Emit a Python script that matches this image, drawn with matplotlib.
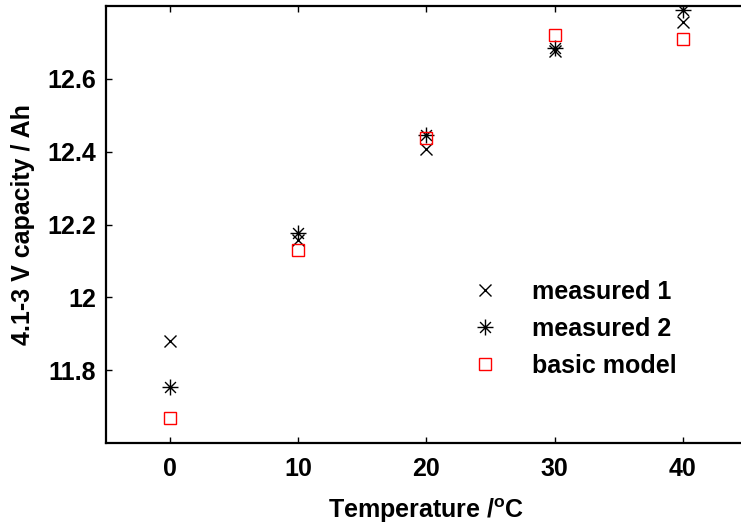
import matplotlib
matplotlib.use("Agg")
import matplotlib.pyplot as plt
from matplotlib.path import Path
import numpy as np

# ---- data ----
temperature = [0, 10, 20, 30, 40]
measured_1 = [11.88, 12.158, 12.407, 12.676, 12.757]
measured_2 = [11.755, 12.176, 12.447, 12.686, 12.789]
basic_model = [11.669, 12.130, 12.438, 12.720, 12.710]

x_ticks = [0, 10, 20, 30, 40]
y_ticks = [11.8, 12.0, 12.2, 12.4, 12.6]
y_tick_labels = ["11.8", "12", "12.2", "12.4", "12.6"]

plt.rcParams["font.family"] = ["Liberation Sans", "DejaVu Sans"]
plt.rcParams["font.weight"] = "bold"
plt.rcParams["mathtext.fontset"] = "custom"
plt.rcParams["mathtext.rm"] = "Liberation Sans:bold"
plt.rcParams["mathtext.bf"] = "Liberation Sans:bold"
plt.rcParams["mathtext.default"] = "rm"

# MATLAB-like asterisk marker: + with shorter x
d = 0.68
star_verts = [(0, -1), (0, 1), (-1, 0), (1, 0), (-d, -d), (d, d), (-d, d), (d, -d)]
star_codes = [Path.MOVETO, Path.LINETO] * 4
star_marker = Path(star_verts, star_codes)

fig = plt.figure(figsize=(7.41, 5.24), dpi=100)
ax = fig.add_axes([106 / 741, 1 - 443 / 524, 641 / 741, 437 / 524])

ax.plot(temperature, measured_1, linestyle="none", marker="x", color="black",
        markersize=8, markeredgewidth=1.0, label="measured 1")
ax.plot(temperature, measured_2, linestyle="none", marker=star_marker, color="black",
        markerfacecolor="none", markersize=11.5, markeredgewidth=1.0, label="measured 2")
ax.plot(temperature, basic_model, linestyle="none", marker="s", color="red",
        markerfacecolor="none", markersize=8.5, markeredgewidth=1.0, label="basic model")

ax.set_xlim(-5, 45)
ax.set_ylim(11.6, 12.8)
ax.set_xticks(x_ticks)
ax.set_yticks(y_ticks)
ax.set_yticklabels(y_tick_labels)

for s in ax.spines.values():
    s.set_linewidth(1.6)
ax.tick_params(direction="in", length=4, width=1.0, top=True, right=True,
               labelsize=18)
ax.tick_params(axis="x", pad=10)
ax.tick_params(axis="y", pad=7)
for lab in ax.get_xticklabels() + ax.get_yticklabels():
    lab.set_fontweight("bold")

ax.set_xlabel(r"Temperature /$^{\mathbf{o}}$C", fontsize=18, fontweight="bold", labelpad=11)
ax.set_ylabel("4.1-3 V capacity / Ah", fontsize=18, fontweight="bold", labelpad=9)

leg = ax.legend(loc="upper left", bbox_to_anchor=(465 / 741, 1 - 280 / 524),
                bbox_transform=fig.transFigure, frameon=False, fontsize=18,
                numpoints=1, handlelength=1.6, handletextpad=1.1, labelspacing=0.52,
                borderpad=0, borderaxespad=0)
for t in leg.get_texts():
    t.set_fontweight("bold")

fig.savefig("out.png", dpi=100)
